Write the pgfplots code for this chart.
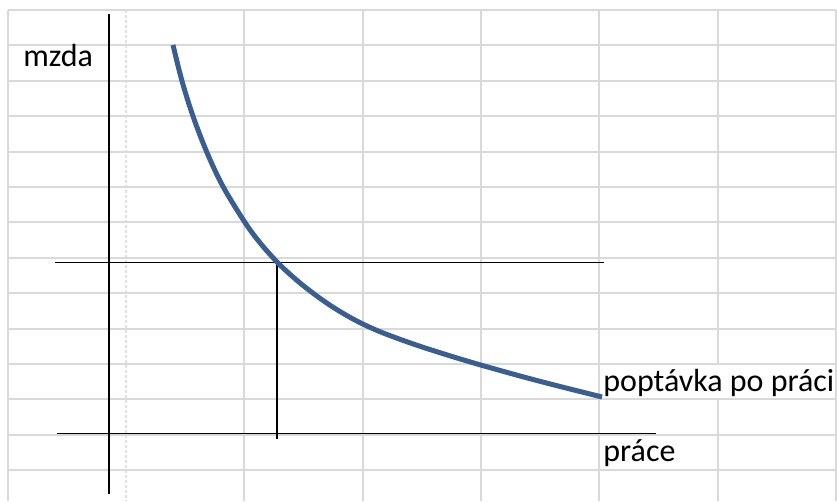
\documentclass[border=0pt]{standalone}
\usepackage{pgfplots}
\pgfplotsset{compat=1.18}
\usepackage{fontspec}
\setmainfont{Carlito}
\definecolor{gridc}{RGB}{217,217,217}
\definecolor{gridd}{RGB}{225,225,225}
\definecolor{curvec}{RGB}{59,94,145}
\begin{document}
\begin{tikzpicture}
\begin{axis}[scale only axis, width=418.5pt, height=250.5pt,
  xmin=0, xmax=837, ymin=0, ymax=501, y dir=reverse,
  hide axis, clip=false, unbounded coords=jump]
\addplot[draw=none, forget plot] coordinates {(0,0) (837,501)};
% spreadsheet grid: vertical lines
\addplot[gridc, line width=1pt, forget plot] coordinates {
 (8,10) (8,501) (8,nan)
 (244.3,10) (244.3,501) (244.3,nan)
 (363,10) (363,501) (363,nan)
 (481,10) (481,501) (481,nan)
 (599.3,10) (599.3,501) (599.3,nan)
 (717.5,10) (717.5,364) (717.5,nan)
 (717.5,399.4) (717.5,501) (717.5,nan)
 (836,10) (836,501)
};
\addplot[gridd, line width=0.8pt, dash pattern=on 1.5pt off 1pt, forget plot] coordinates {(126,10) (126,501)};
% spreadsheet grid: horizontal lines
\addplot[gridc, line width=1pt, forget plot] coordinates {
 (8,10) (836,10) (8,nan)
 (8,45.4) (836,45.4) (8,nan)
 (8,80.8) (836,80.8) (8,nan)
 (8,116.2) (836,116.2) (8,nan)
 (8,151.6) (836,151.6) (8,nan)
 (8,187) (836,187) (8,nan)
 (8,222.4) (836,222.4) (8,nan)
 (8,257.8) (836,257.8) (8,nan)
 (8,293.2) (836,293.2) (8,nan)
 (8,328.6) (836,328.6) (8,nan)
 (8,364) (836,364) (8,nan)
 (8,399.4) (836,399.4) (8,nan)
 (8,434.8) (836,434.8) (8,nan)
 (8,470.2) (836,470.2)
};
% black axis lines
\addplot[black, line width=0.75pt, forget plot] coordinates {(109,14) (109,494)};
\addplot[black, line width=0.75pt, forget plot] coordinates {(55,262.3) (603.5,262.3)};
\addplot[black, line width=0.75pt, forget plot] coordinates {(57,433.7) (656,433.7)};
\addplot[black, line width=0.75pt, forget plot] coordinates {(277,262.3) (277,439)};
% demand curve
\addplot[curvec, line width=2.5pt, smooth, tension=0.55, forget plot] coordinates {
 (173,45) (182,81) (193,116.2) (207,152.6) (223,186.5) (245,222.5) (260,242.8)
 (277,262) (290,274.3) (303,285.4) (320,298.3) (337,309.7) (357,321.1)
 (380,331.7) (413,343.9) (447,354.9) (480,364.8) (523,376.8) (557,385.7) (602,397)
};
\node[anchor=base west, inner sep=0pt, font=\fontsize{16pt}{19pt}\selectfont] at (axis cs:23,67) {mzda};
\node[anchor=base west, inner sep=0pt, font=\fontsize{16pt}{19pt}\selectfont] at (axis cs:603,391.5) {poptávka po práci};
\node[anchor=base west, inner sep=0pt, font=\fontsize{16pt}{19pt}\selectfont] at (axis cs:603,461.5) {práce};
\end{axis}
\end{tikzpicture}
\end{document}
